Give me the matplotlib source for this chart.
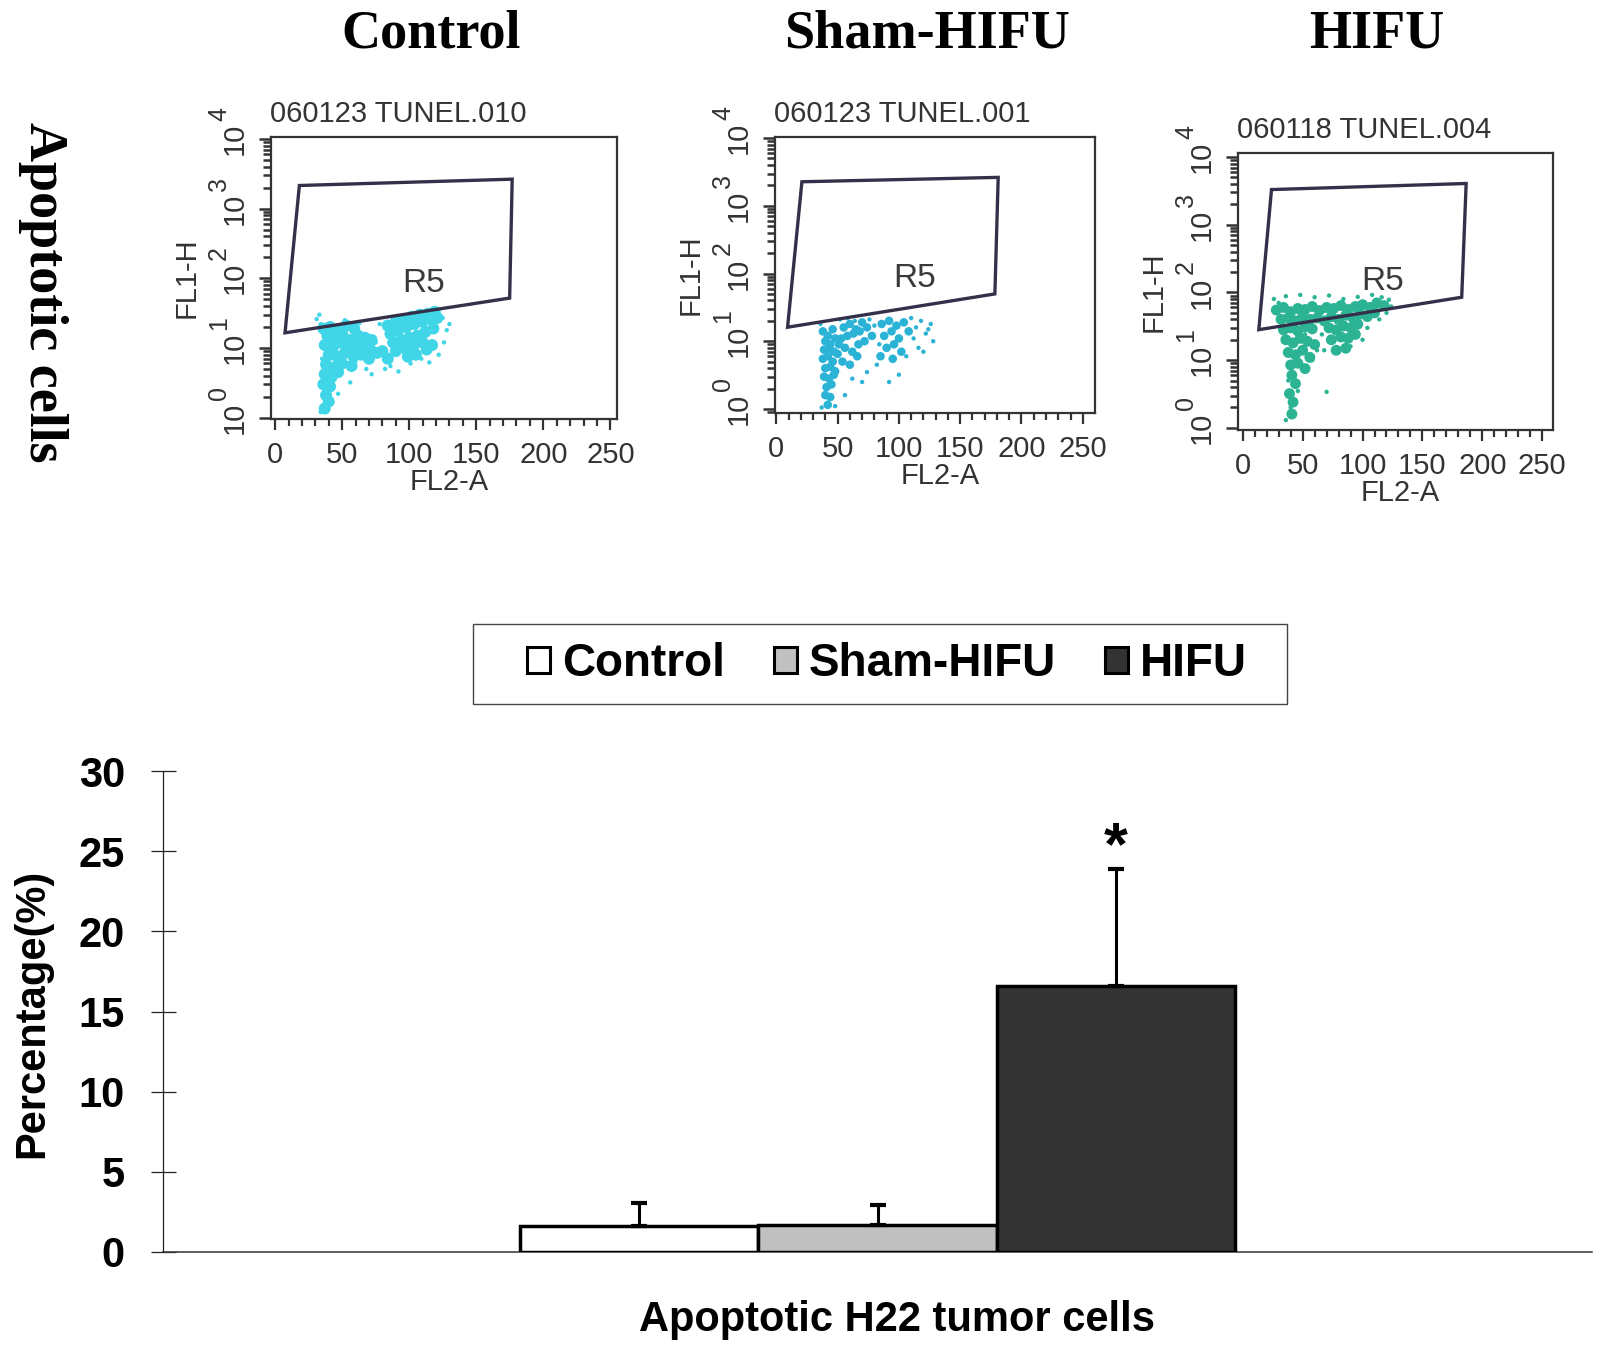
import matplotlib.pyplot as plt
from matplotlib import transforms
from matplotlib.patches import Rectangle, Polygon, Patch
from matplotlib.ticker import LogLocator, NullFormatter

plt.rcParams['font.family'] = ['Liberation Sans', 'DejaVu Sans']

# bar chart values
groups = ['Control', 'Sham-HIFU', 'HIFU']
means = [1.63, 1.7, 16.56]
errs = [1.43, 1.26, 7.34]
bar_colors = ['white', '#c0c0c0', '#333333']
yticks = [0, 5, 10, 15, 20, 25, 30]

# flow cytometry panels
panel_ids = ['060123 TUNEL.010', '060123 TUNEL.001', '060118 TUNEL.004']
xtick_vals = [0, 50, 100, 150, 200, 250]
gate_x = [[18.1, 176.8, 174.9, 7.4], [20.9, 181, 178.3, 9.2], [24, 186.5, 182.8, 13.4]]
gate_y = [[2150, 2650, 52, 16.5], [2265, 2630, 50, 16.1], [3310, 4070, 85, 28.2]]
r5_x = [111, 113, 117]
r5_y = [84, 85, 145]

ctrl_x_core = [36, 41, 47, 53, 59, 39, 44, 50, 56, 62, 67, 72, 37, 43, 49, 55, 61, 66, 71,
               40, 46, 52, 58, 64, 70, 76, 38, 44, 50, 57, 37, 42, 47, 36, 41, 38, 40, 37,
               84, 90, 96, 102, 108, 114, 119, 86, 92, 98, 104, 110, 116, 121,
               88, 94, 100, 106, 112, 118, 90, 96, 103, 110, 80, 84, 99, 105, 113, 117]
ctrl_y_core = [19, 20, 18, 21, 19, 15, 14, 16, 13, 15, 14, 13, 11, 10, 12, 10, 11, 10, 9.5,
               8, 7.5, 8.5, 7.8, 8, 7, 8.5, 5.8, 5.2, 6, 5.5, 4.2, 3.8, 4.5, 3, 2.8, 2.1, 1.7, 1.35,
               21, 24, 26, 28, 30, 31, 33, 16, 18, 20, 22, 24, 26, 27,
               12, 13, 14, 15, 17, 19, 9, 10, 10.5, 12, 9, 7, 7.5, 8, 9.5, 11]
ctrl_x_sp = [31, 34, 33, 52, 63, 78, 82, 125, 128, 126, 130, 86, 92, 101, 72, 56, 47, 34, 35,
             68, 109, 115, 122, 75, 60, 45]
ctrl_y_sp = [26, 22, 30, 25, 23, 22, 5, 27, 18, 12, 22, 5.5, 4.6, 6, 4.2, 3.2, 2.2, 1.2, 7,
             5, 7, 6.2, 8, 12, 6.5, 12.5]

sham_x_core = [38, 42, 46, 40, 44, 48, 39, 43, 47, 51, 38, 42, 46, 50, 40, 44, 48, 39, 43, 47,
               41, 45, 40, 44, 42,
               55, 60, 65, 70, 53, 58, 63, 68, 74, 56, 62, 67, 72, 54, 60, 66, 78,
               86, 92, 98, 104, 88, 94, 100, 90, 96, 102, 85, 95, 108]
sham_y_core = [14, 12, 15, 10, 9, 11, 7.5, 8, 7, 9, 5.5, 6, 5, 6.5, 4, 4.2, 3.6, 3, 2.8, 3.2,
               2.1, 2.3, 1.6, 1.5, 1.15,
               16, 18, 15, 19, 11, 12, 13, 14, 16, 8, 7, 9, 10, 5, 4.5, 6, 12,
               18, 20, 17, 19, 12, 14, 11, 8, 9, 7, 6, 5.5, 14]
sham_x_sp = [36, 52, 58, 64, 76, 80, 84, 110, 114, 118, 122, 126, 128, 116, 106, 82, 74, 70,
             62, 56, 112, 120, 124, 100, 92, 37, 48]
sham_y_sp = [18, 21, 22, 20, 21, 17, 9, 22, 16, 20, 13, 18, 10, 8, 6, 4.5, 3.5, 2.5,
             2.8, 1.6, 11, 7, 15, 3.2, 2.5, 1.05, 1.1]

hifu_x_core = [28, 34, 40, 46, 52, 58, 64, 70, 76, 82, 88, 94, 100, 106, 112, 118,
               32, 38, 44, 50, 56, 62, 68, 74, 80, 86, 92, 98, 104, 110,
               34, 40, 46, 52, 58, 72, 78, 84, 90, 96,
               36, 42, 48, 54, 60, 74, 82, 88, 94,
               38, 44, 50, 56, 78, 86,
               40, 46, 52, 41, 44, 39, 42, 41]
hifu_y_core = [55, 60, 52, 58, 56, 62, 54, 60, 58, 64, 56, 62, 66, 60, 70, 64,
               40, 42, 38, 44, 40, 42, 38, 44, 40, 46, 42, 48, 44, 50,
               28, 30, 27, 31, 29, 30, 28, 32, 30, 34,
               20, 18, 21, 19, 17, 20, 22, 21, 24,
               13, 12, 14, 11, 14, 15,
               8.5, 9, 7.5, 6, 4.5, 3.2, 2.4, 1.6]
hifu_x_sp = [26, 30, 36, 48, 60, 72, 84, 96, 108, 116, 122, 124, 120, 114, 104, 66, 62, 58,
             100, 90, 38, 40, 36, 70, 68, 46, 52]
hifu_y_sp = [80, 70, 88, 92, 85, 90, 80, 86, 92, 85, 78, 62, 50, 40, 30, 24, 14, 10,
             20, 16, 5, 2, 1.3, 3.4, 14, 3.5, 24]

core_x = [ctrl_x_core, sham_x_core, hifu_x_core]
core_y = [ctrl_y_core, sham_y_core, hifu_y_core]
sp_x = [ctrl_x_sp, sham_x_sp, hifu_x_sp]
sp_y = [ctrl_y_sp, sham_y_sp, hifu_y_sp]
dot_colors = ['#40d6e8', '#2bb3d6', '#2bb394']

fig = plt.figure(figsize=(16.04, 13.56), dpi=100)

# --- top row: dot plots ---
pos = [[0.1690, 0.6910, 0.2157, 0.2080],
       [0.4832, 0.6954, 0.1995, 0.2035],
       [0.7718, 0.6829, 0.1964, 0.2043]]
xlims = [(-3, 255), (-1, 260), (-4, 259)]
ylims = [(0.955, 10700), (0.87, 10350), (0.93, 11500)]
core_size = [75, 38, 62]
ink = '#333333'

for i in range(3):
    ax = fig.add_axes(pos[i])
    ax.set_yscale('log')
    ax.set_xlim(xlims[i])
    ax.set_ylim(ylims[i])
    ax.scatter(core_x[i], core_y[i], s=core_size[i], c=dot_colors[i], edgecolors='none', zorder=2)
    ax.scatter(sp_x[i], sp_y[i], s=10, c=dot_colors[i], edgecolors='none', zorder=2)
    ax.add_patch(Polygon(list(zip(gate_x[i], gate_y[i])), closed=True, fill=False,
                         ec='#35304a', lw=2.4, joinstyle='miter', zorder=3))
    ax.text(r5_x[i], r5_y[i], 'R5', fontsize=24, color='#3a3a3a', ha='center', va='center')
    for s in ax.spines.values():
        s.set_linewidth(1.6)
        s.set_color(ink)

    ax.set_xticks(xtick_vals)
    ax.set_xticks(list(range(0, 251, 10)), minor=True)
    ax.set_xticklabels([str(v) for v in xtick_vals], fontsize=21, color=ink)
    off = transforms.ScaledTranslation(0.06, 0, fig.dpi_scale_trans)
    for lab in ax.get_xticklabels():
        lab.set_transform(lab.get_transform() + off)
    ax.tick_params(axis='x', which='major', length=8, width=1.6, pad=8, color=ink)
    ax.tick_params(axis='x', which='minor', length=5, width=1.6, color=ink)

    ax.set_yticks([1, 10, 100, 1000, 10000])
    ax.yaxis.set_minor_locator(LogLocator(base=10, subs=range(2, 10), numticks=20))
    ax.yaxis.set_major_formatter(NullFormatter())
    ax.yaxis.set_minor_formatter(NullFormatter())
    ax.tick_params(axis='y', which='major', length=9, width=1.8, color=ink)
    ax.tick_params(axis='y', which='minor', length=6, width=1.8, color=ink)

    trans = transforms.blended_transform_factory(ax.transAxes, ax.transData)
    t10 = transforms.offset_copy(trans, fig=fig, x=-22, y=0, units='dots')
    texp = transforms.offset_copy(trans, fig=fig, x=-40, y=25, units='dots')
    for k in range(5):
        ax.text(0, 10 ** k, '10', transform=t10, rotation=90, ha='right', va='center',
                fontsize=21, color=ink)
        ax.text(0, 10 ** k, str(k), transform=texp, rotation=90, ha='right', va='center',
                fontsize=18, color=ink)

    ax.text(0, 0.5, 'FL1-H', transform=transforms.offset_copy(ax.transAxes, fig=fig, x=-84, y=0, units='dots'),
            rotation=90, ha='center', va='center', fontsize=21, color=ink)
    ax.text(0.5, 0, 'FL2-A', transform=transforms.offset_copy(ax.transAxes, fig=fig, x=5, y=-63, units='dots'),
            ha='center', va='center', fontsize=21, color=ink)
    ax.text(0, 1, panel_ids[i], transform=transforms.offset_copy(ax.transAxes, fig=fig, x=-1, y=9, units='dots'),
            ha='left', va='bottom', fontsize=21, color=ink)

title_x = [431, 927, 1377]
for i in range(3):
    fig.text(title_x[i] / 1604, 1 - 47 / 1356, groups[i], family='Liberation Serif',
             fontweight='bold', fontsize=39, ha='center', va='baseline')
fig.text(43 / 1604, 1 - 292 / 1356, 'Apoptotic cells', family='Liberation Serif',
         fontweight='bold', fontsize=39, rotation=270, ha='center', va='center')

# --- bottom: bar chart ---
bx = fig.add_axes([0.1016, 0.0767, 0.891, 0.3547])
xpos = [-0.2, 0.0, 0.2]
bx.bar(xpos, means, width=0.2, color=bar_colors, edgecolor='black', linewidth=2.5,
       yerr=[[0, 0, 0], errs], capsize=6,
       error_kw=dict(elinewidth=2.2, capthick=3, ecolor='black'), zorder=3)
bx.text(0.2, 24.2, '*', ha='center', va='baseline', fontsize=44, fontweight='bold')
bx.set_xlim(-0.6, 0.6)
bx.set_ylim(0, 30)
bx.set_xticks([])
bx.set_yticks(yticks)
bx.set_yticklabels([str(v) for v in yticks], fontweight='bold', fontsize=30)
bx.tick_params(axis='y', direction='inout', length=18, width=0.9, pad=18.4, color='#222222')
bx.spines['top'].set_visible(False)
bx.spines['right'].set_visible(False)
bx.spines['left'].set_linewidth(0.9)
bx.spines['left'].set_color('#222222')
bx.spines['bottom'].set_linewidth(1.1)
bx.spines['bottom'].set_color('#333333')

fig.text(32 / 1604, 1 - 1013 / 1356, 'Percentage(%)', rotation=90, ha='center', va='center',
         fontsize=30, fontweight='bold')
fig.text(897 / 1604, 1 - 1320 / 1356, 'Apoptotic H22 tumor cells', ha='center', va='center',
         fontsize=30, fontweight='bold')

handles = [Patch(facecolor=c, edgecolor='black', linewidth=2.2) for c in bar_colors]
fig.legend(handles, groups, loc='center', bbox_to_anchor=(887 / 1604, 1 - 664 / 1356), ncol=3,
           frameon=False, prop={'weight': 'bold', 'size': 33}, handlelength=0.5, handleheight=0.5,
           handletextpad=0.26, columnspacing=1.07, borderpad=0)
fig.patches.append(Rectangle((473 / 1604, 1 - 704 / 1356), 814 / 1604, 80 / 1356,
                             transform=fig.transFigure, fill=False, ec='#444444', lw=1.0))

fig.savefig('out.png', dpi=100)
